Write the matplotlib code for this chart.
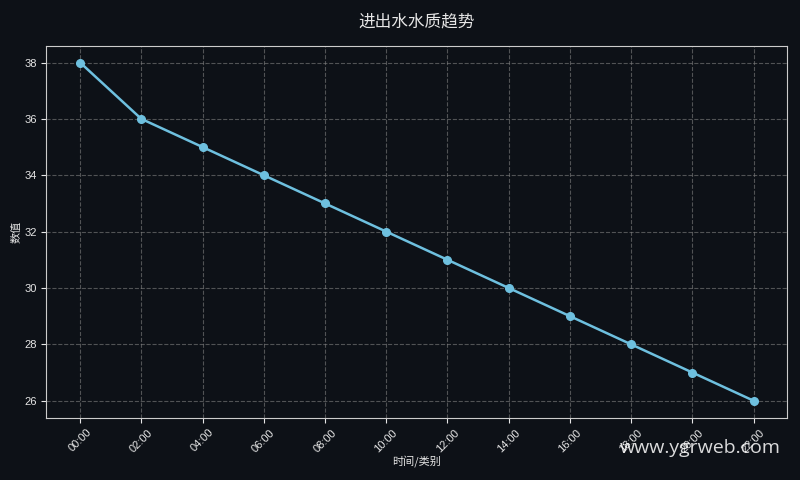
import matplotlib
matplotlib.use("Agg")
import matplotlib.pyplot as plt

plt.rcParams['font.family'] = ['Liberation Sans', 'Noto Sans CJK SC']

# data
times = ["00:00", "02:00", "04:00", "06:00", "08:00", "10:00",
         "12:00", "14:00", "16:00", "18:00", "20:00", "22:00"]
values = [38, 36, 35, 34, 33, 32, 31, 30, 29, 28, 27, 26]

bg = "#0d1117"
fg = "#e6e6e6"
line_color = "#6ec0df"

fig, ax = plt.subplots(figsize=(8, 4.8), dpi=100)
fig.patch.set_facecolor(bg)
ax.set_facecolor(bg)

x = range(len(times))
ax.plot(x, values, color=line_color, linewidth=1.8, marker="o", markersize=5.5, zorder=3)

ax.set_xticks(list(x))
ax.set_xticklabels(times, rotation=45, fontsize=8, color=fg)
ax.tick_params(axis="y", labelsize=8, colors=fg)
ax.tick_params(axis="x", colors=fg)
ax.set_yticks([26, 28, 30, 32, 34, 36, 38])
ax.set_ylim(25.4, 38.6)
ax.set_xlim(-0.55, 11.55)

ax.grid(True, linestyle="--", color="#808080", alpha=0.6, linewidth=0.8)
for s in ax.spines.values():
    s.set_color("#cccccc")

cjk = ["Noto Sans CJK SC", "DejaVu Sans"]
ax.set_title("进出水水质趋势", color=fg, fontsize=12, pad=14, family=cjk)
ax.set_xlabel("时间/类别", color=fg, fontsize=8, family=cjk, labelpad=1)
ax.set_ylabel("数值", color=fg, fontsize=8, family=cjk, labelpad=2)

plt.subplots_adjust(left=0.058, right=0.984, top=0.905, bottom=0.13)

fig.text(0.976, 0.066, "www.ygrweb.com", ha="right", va="center",
         fontsize=14, color="#ffffff", alpha=0.85, family=["Open Sans", "DejaVu Sans"])

fig.savefig("out.png", dpi=100, facecolor=bg)
